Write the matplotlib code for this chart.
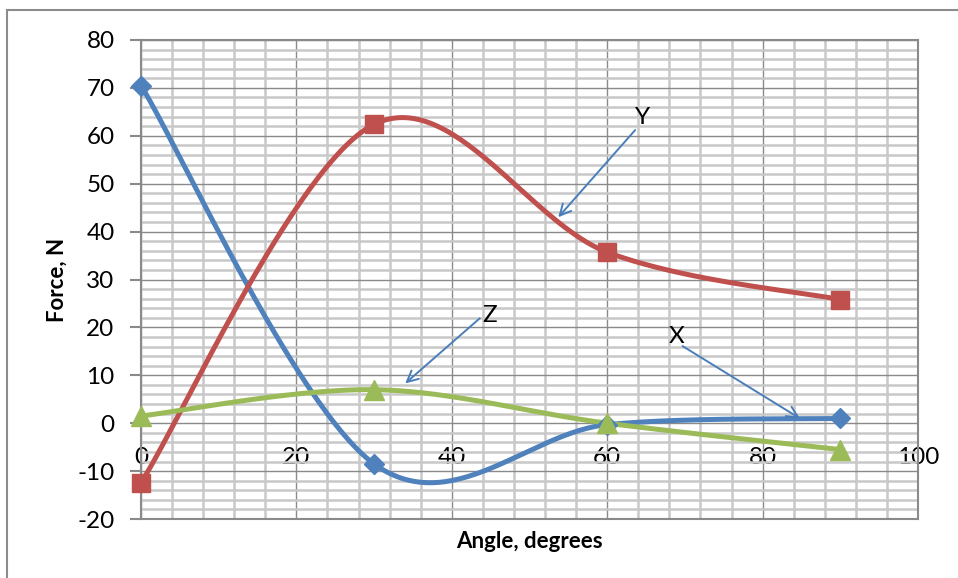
import numpy as np
import matplotlib
matplotlib.use("Agg")
import matplotlib.pyplot as plt
from matplotlib.patches import Rectangle
from matplotlib.ticker import MultipleLocator

plt.rcParams['font.family'] = ['Lato', 'DejaVu Sans']
plt.rcParams['axes.unicode_minus'] = False

angles = [0, 30, 60, 90]
force_x = [70.5, -8.5, -0.3, 1.0]
force_y = [-12.4, 62.4, 35.7, 25.8]
force_z = [1.5, 7.0, 0.0, -5.5]

x_ticks = [0, 20, 40, 60, 80, 100]
y_ticks = [-20, -10, 0, 10, 20, 30, 40, 50, 60, 70, 80]

BLUE = "#4f81bd"
RED = "#c0504d"
GREEN = "#9bbb59"
ARROW = "#4a7ebb"


def smooth(xs, ys, n=60):
    """Cubic Bezier smoothing through the points (spreadsheet-style)."""
    p = np.column_stack([xs, ys]).astype(float)
    ext = np.vstack([p[0], p, p[-1]])
    out = []
    t = np.linspace(0, 1, n)[:, None]
    for i in range(len(p) - 1):
        p0, p1 = p[i], p[i + 1]
        c1 = p0 + (ext[i + 2] - ext[i]) / 6.0
        c2 = p1 - (ext[i + 3] - ext[i + 1]) / 6.0
        seg = ((1 - t) ** 3) * p0 + 3 * ((1 - t) ** 2) * t * c1 \
            + 3 * (1 - t) * t ** 2 * c2 + t ** 3 * p1
        out.append(seg if i == 0 else seg[1:])
    out = np.vstack(out)
    return out[:, 0], out[:, 1]


W, H = 958, 578
fig = plt.figure(figsize=(W / 100, H / 100), dpi=100)

# chart-area border
fig.patches.append(Rectangle((7 / W, -0.05), 1.2, 1 - 10 / H + 0.05,
                             transform=fig.transFigure, fill=False,
                             edgecolor="#8c8c8c", linewidth=1.5))

ax = fig.add_axes([141 / W, 1 - 519 / H, (918 - 141) / W, (519 - 40) / H])
ax.set_xlim(0, 100)
ax.set_ylim(-20, 80)

ax.xaxis.set_minor_locator(MultipleLocator(4))
ax.yaxis.set_minor_locator(MultipleLocator(2))
ax.set_xticks(x_ticks)
ax.set_yticks(y_ticks)

ax.grid(which="minor", color="#c8c8c8", linewidth=1.8, zorder=0)
ax.grid(which="major", color="#8a8a8a", linewidth=1.0, zorder=0.5)
ax.set_axisbelow(True)

for side in ("top", "right", "left"):
    ax.spines[side].set_color("#8a8a8a")
    ax.spines[side].set_linewidth(1.5)
ax.spines["bottom"].set_position(("data", 0))
ax.spines["bottom"].set_visible(False)
ax.axhline(-20, color="#8a8a8a", linewidth=1.5, clip_on=False, zorder=1)

ax.tick_params(axis="y", which="major", length=8, width=1.5, color="#8a8a8a",
               labelsize=17.5, pad=11)
ax.tick_params(axis="y", which="minor", length=0)
ax.tick_params(axis="x", which="both", length=0, labelsize=17.5, pad=17)

series = [
    (force_x, BLUE, "D", 10),
    (force_y, RED, "s", 13),
    (force_z, GREEN, "^", 14),
]
for vals, color, marker, ms in series:
    sx, sy = smooth(angles, vals)
    ax.plot(sx, sy, color=color, linewidth=3.6, solid_capstyle="round",
            zorder=3, clip_on=False)
    ax.plot(angles, vals, linestyle="none", marker=marker, markersize=ms,
            color=color, zorder=4, clip_on=False)

ax.set_xlabel("Angle, degrees", fontsize=16, fontweight="bold", labelpad=0)
ax.xaxis.set_label_coords(0.5, -0.025)
ax.set_ylabel("Force, N", fontsize=16, fontweight="bold")
ax.yaxis.set_label_coords(-0.094, 0.5)

arrow_kw = dict(arrowstyle="->,head_length=0.8,head_width=0.4",
                color=ARROW, lw=1.4, shrinkA=0, shrinkB=0)
labels = [
    ("Y", (64.5, 63.9), (63.6, 61.2), (53.7, 43.0)),
    ("Z", (44.9, 22.5), (43.6, 21.9), (34.0, 8.3)),
    ("X", (68.9, 18.0), (69.7, 16.1), (84.8, 1.0)),
]
for text, tpos, tail, head in labels:
    ax.annotate("", xy=head, xytext=tail, arrowprops=arrow_kw, zorder=5)
    ax.text(*tpos, text, fontsize=17.5, ha="center", va="center", zorder=5)

fig.savefig("out.png", dpi=100)
